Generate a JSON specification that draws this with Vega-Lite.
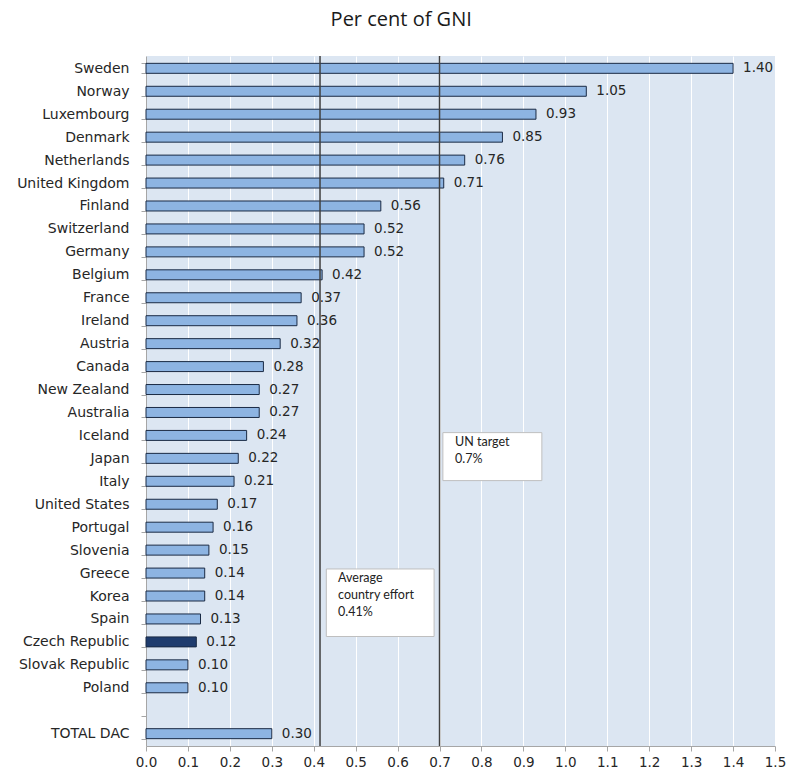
{
  "$schema": "https://vega.github.io/schema/vega-lite/v6.json",
  "autosize": {"type": "fit", "contains": "padding"},
  "width": 790,
  "height": 772,
  "padding": {"top": 10, "left": 16, "right": 4, "bottom": 3},
  "background": "white",
  "title": {
    "text": "Per cent of GNI",
    "font": "Open Sans",
    "fontSize": 20,
    "fontWeight": "normal",
    "color": "#1a1a1a",
    "anchor": "middle",
    "frame": "bounds",
    "offset": 19
  },
  "config": {
    "view": {"fill": "#dce6f2", "stroke": null},
    "axis": {
      "labelFont": "DejaVu Sans",
      "labelFontSize": 13.5,
      "labelColor": "#262626",
      "domainColor": "#a6a6a6",
      "tickColor": "#a6a6a6",
      "title": null
    }
  },
  "data": {
    "values": [
      {"country": "Sweden", "value": 1.40},
      {"country": "Norway", "value": 1.05},
      {"country": "Luxembourg", "value": 0.93},
      {"country": "Denmark", "value": 0.85},
      {"country": "Netherlands", "value": 0.76},
      {"country": "United Kingdom", "value": 0.71},
      {"country": "Finland", "value": 0.56},
      {"country": "Switzerland", "value": 0.52},
      {"country": "Germany", "value": 0.52},
      {"country": "Belgium", "value": 0.42},
      {"country": "France", "value": 0.37},
      {"country": "Ireland", "value": 0.36},
      {"country": "Austria", "value": 0.32},
      {"country": "Canada", "value": 0.28},
      {"country": "New Zealand", "value": 0.27},
      {"country": "Australia", "value": 0.27},
      {"country": "Iceland", "value": 0.24},
      {"country": "Japan", "value": 0.22},
      {"country": "Italy", "value": 0.21},
      {"country": "United States", "value": 0.17},
      {"country": "Portugal", "value": 0.16},
      {"country": "Slovenia", "value": 0.15},
      {"country": "Greece", "value": 0.14},
      {"country": "Korea", "value": 0.14},
      {"country": "Spain", "value": 0.13},
      {"country": "Czech Republic", "value": 0.12},
      {"country": "Slovak Republic", "value": 0.10},
      {"country": "Poland", "value": 0.10},
      {"country": "TOTAL DAC", "value": 0.30}
    ]
  },
  "encoding": {
    "y": {
      "field": "country",
      "type": "nominal",
      "scale": {
        "domain": ["Sweden", "Norway", "Luxembourg", "Denmark", "Netherlands", "United Kingdom", "Finland", "Switzerland", "Germany", "Belgium", "France", "Ireland", "Austria", "Canada", "New Zealand", "Australia", "Iceland", "Japan", "Italy", "United States", "Portugal", "Slovenia", "Greece", "Korea", "Spain", "Czech Republic", "Slovak Republic", "Poland", " ", "TOTAL DAC"],
        "paddingInner": 0.565,
        "paddingOuter": 0.32
      },
      "axis": {
        "tickBand": "extent",
        "tickSize": 5,
        "labelPadding": 12,
        "labelFontSize": 14,
        "grid": false,
        "domain": true
      }
    },
    "x": {
      "field": "value",
      "type": "quantitative",
      "scale": {"domain": [0, 1.5], "nice": false},
      "axis": {
        "values": [0, 0.1, 0.2, 0.3, 0.4, 0.5, 0.6, 0.7, 0.8, 0.9, 1.0, 1.1, 1.2, 1.3, 1.4, 1.5],
        "format": ".1f",
        "grid": true,
        "gridColor": "#ffffff",
        "gridWidth": 1,
        "tickSize": 5,
        "labelPadding": 4,
        "labelFlush": false
      }
    }
  },
  "layer": [
    {
      "mark": {"type": "bar", "stroke": "#1a2a44", "strokeWidth": 1},
      "encoding": {
        "color": {
          "condition": {"test": "datum.country === 'Czech Republic'", "value": "#1f3c6e"},
          "value": "#8db4e2"
        }
      }
    },
    {
      "mark": {"type": "text", "align": "left", "baseline": "middle", "dx": 10, "font": "DejaVu Sans", "fontSize": 13.5, "color": "#262626"},
      "encoding": {
        "text": {"field": "value", "type": "quantitative", "format": ".2f"}
      }
    },
    {
      "data": {"values": [{"line": 0.415}, {"line": 0.7}]},
      "mark": {"type": "rule", "color": "#404040", "strokeWidth": 1.5},
      "encoding": {
        "x": {"field": "line", "type": "quantitative"},
        "y": null
      }
    },
    {
      "data": {"values": [{"x1": 0.708, "x2": 0.944, "c1": "Iceland", "c2": "Italy"}]},
      "mark": {"type": "rect", "fill": "white", "stroke": "#bfbfbf", "strokeWidth": 1},
      "encoding": {
        "x": {"field": "x1", "type": "quantitative"},
        "x2": {"field": "x2"},
        "y": {"field": "c1", "type": "nominal", "bandPosition": 0.22},
        "y2": {"field": "c2", "bandPosition": 0.43}
      }
    },
    {
      "data": {"values": [{"x1": 0.43, "x2": 0.687, "c1": "Greece", "c2": "Czech Republic"}]},
      "mark": {"type": "rect", "fill": "white", "stroke": "#bfbfbf", "strokeWidth": 1},
      "encoding": {
        "x": {"field": "x1", "type": "quantitative"},
        "x2": {"field": "x2"},
        "y": {"field": "c1", "type": "nominal", "bandPosition": 0.09},
        "y2": {"field": "c2", "bandPosition": -0.04}
      }
    },
    {
      "data": {"values": [{"xt": 0.737, "c": "Iceland", "label": "UN target\n0.7%"}]},
      "mark": {"type": "text", "align": "left", "baseline": "top", "lineBreak": "\n", "lineHeight": 17, "font": "Lato", "fontSize": 12.5, "color": "#222222"},
      "encoding": {
        "x": {"field": "xt", "type": "quantitative"},
        "y": {"field": "c", "type": "nominal", "bandPosition": 0.6},
        "text": {"field": "label"}
      }
    },
    {
      "data": {"values": [{"xt": 0.458, "c": "Greece", "label": "Average\ncountry effort\n0.41%"}]},
      "mark": {"type": "text", "align": "left", "baseline": "top", "lineBreak": "\n", "lineHeight": 17, "font": "Lato", "fontSize": 12.5, "color": "#222222"},
      "encoding": {
        "x": {"field": "xt", "type": "quantitative"},
        "y": {"field": "c", "type": "nominal", "bandPosition": 0.4},
        "text": {"field": "label"}
      }
    }
  ]
}
